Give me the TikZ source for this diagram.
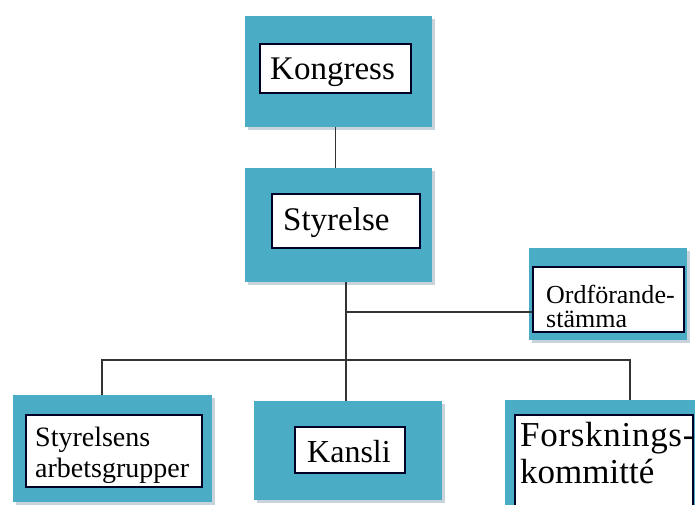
\documentclass[tikz,border=0pt]{standalone}
\usepackage{fontspec}
\setmainfont{Liberation Serif}
\usetikzlibrary{shadows}
\definecolor{boxteal}{HTML}{4BACC6}
\definecolor{linegray}{HTML}{333333}
\definecolor{shade}{HTML}{C9D3DB}
\tikzset{
  outerbox/.style={rectangle, fill=boxteal, draw=none, inner sep=0pt,
    drop shadow={shadow xshift=2.5pt, shadow yshift=-2.5pt, fill=shade, opacity=1}},
  innerbox/.style={rectangle, fill=white, draw=black!85!blue, line width=1.4pt, inner sep=0pt},
  boxtext/.style={inner sep=0pt, align=left, anchor=north west},
  conn/.style={draw=linegray, line width=1.3pt}
}
\begin{document}
\begin{tikzpicture}[x=1pt,y=-1pt]
\useasboundingbox (0,0) rectangle (695,504);
\clip (0,0) rectangle (695,504);
\fill[white] (0,0) rectangle (695,504);
% outer boxes
\node[outerbox, minimum width=187pt, minimum height=111pt] (kongO) at (338.5,71.5) {};
\node[outerbox, minimum width=187pt, minimum height=114pt] (styO) at (338.5,225) {};
\node[outerbox, minimum width=158pt, minimum height=92pt] (ordO) at (608,294) {};
\node[outerbox, minimum width=199pt, minimum height=107pt] (arbO) at (112.5,448.5) {};
\node[outerbox, minimum width=188pt, minimum height=99pt] (kanO) at (348,450.5) {};
\node[outerbox, minimum width=193pt, minimum height=110pt] (forO) at (601.5,455) {};
% inner boxes
\node[innerbox, minimum width=151pt, minimum height=49pt] (kongI) at (335.5,68.5) {};
\node[innerbox, minimum width=148pt, minimum height=54pt] (styI) at (346,221) {};
\node[innerbox, minimum width=151pt, minimum height=65pt] (ordI) at (608.5,299.5) {};
\node[innerbox, minimum width=176pt, minimum height=72pt] (arbI) at (114,451) {};
\node[innerbox, minimum width=110pt, minimum height=46pt] (kanI) at (350,450) {};
\node[innerbox, minimum width=178pt, minimum height=92pt] (forI) at (604,461) {};
% texts
\node[boxtext, font=\fontsize{33}{36}\selectfont] (kongT) at (270,57.5) {Kongress};
\node[boxtext, font=\fontsize{33}{36}\selectfont] (styT) at (283,207.5) {Styrelse};
\node[boxtext, font=\fontsize{26}{24}\selectfont] (ordT) at (546,285) {Ordförande-\\stämma};
\node[boxtext, font=\fontsize{28}{31}\selectfont] (arbT) at (35,427) {Styrelsens\\arbetsgrupper};
\node[boxtext, font=\fontsize{32}{34}\selectfont] (kanT) at (307,440) {Kansli};
\node[boxtext, font=\fontsize{35}{37}\selectfont] (forT) at (520,422) {\addfontfeature{LetterSpace=2}Forsknings-\\kommitté};
% junction coordinates
\coordinate (j1) at (346,312);
\coordinate (hl) at (102,360);
\coordinate (hr) at (630,360);
% connectors
\draw[conn] (kongI.center |- kongO.south) -- (kongI.center |- styO.north);
\draw[conn] (styI.center |- styO.south) -- (styI.center |- kanO.north);
\draw[conn] (j1) -- (j1 -| ordI.west);
\draw[conn] (arbO.north -| hl) -- (hl) -- (hr) -- (forO.north -| hr);
\end{tikzpicture}
\end{document}
